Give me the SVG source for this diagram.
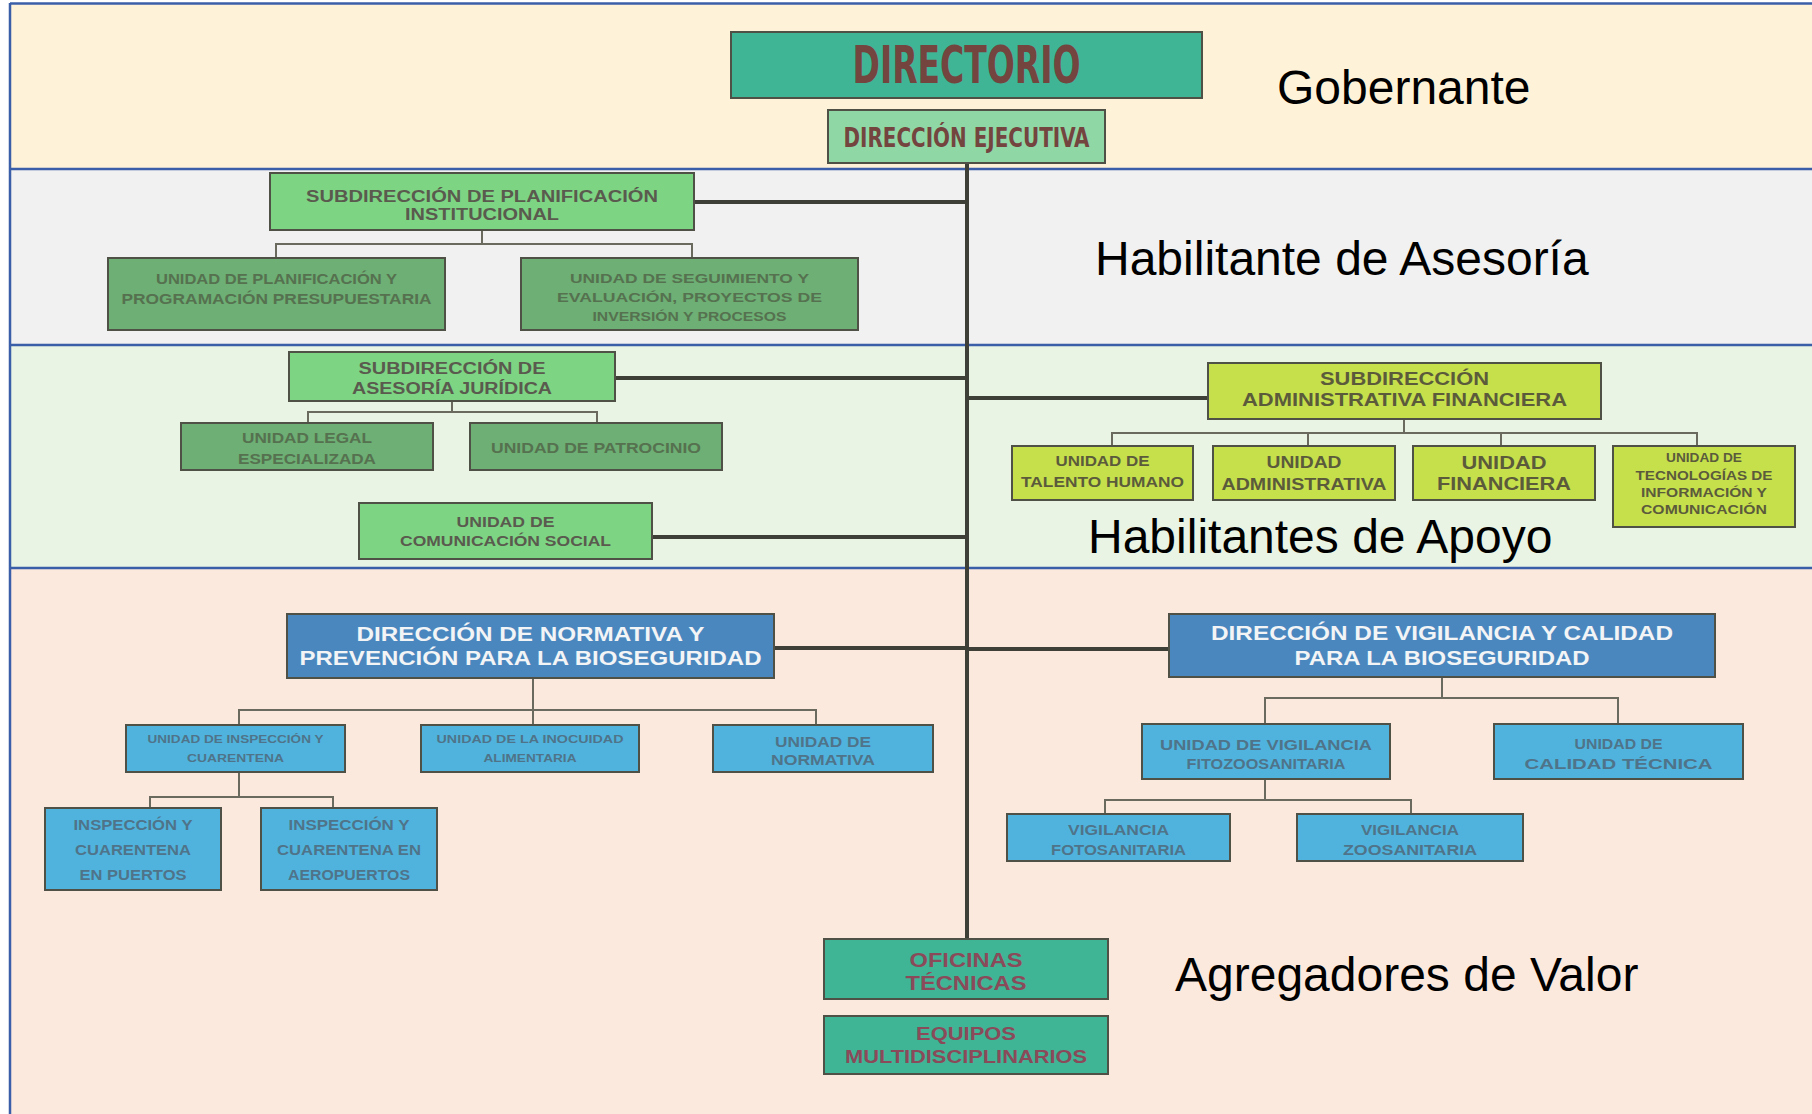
<svg xmlns="http://www.w3.org/2000/svg" width="1812" height="1114" viewBox="0 0 1812 1114">
<style>
.band-line{stroke:#3B5EA8;stroke-width:2.5;fill:none}
.box{stroke:#4F5046;stroke-width:2}
.teal{fill:#40B596}
.lgreen{fill:#8FD8A6}
.green{fill:#7DD584}
.dgreen{fill:#6DAF74}
.yellow{fill:#C6E04C}
.dblue{fill:#4A87BF}
.lblue{fill:#4FB3DE}
.t{font-family:"Liberation Sans",Arial,sans-serif;font-weight:bold;text-anchor:middle}
.cond{font-family:"Liberation Sans Narrow","DejaVu Sans Condensed","Liberation Sans",sans-serif;font-weight:bold;text-anchor:middle}
.maroon{fill:#74443F}
.tg{fill:#5A5A4E}
.tdg{fill:#56714F}
.ty{fill:#5B5B3C}
.tw{fill:#F2F4F6}
.tb{fill:#4F7489}
.tt{fill:#8A4A5A}
.lbl{font-family:"Liberation Sans",Arial,sans-serif;font-size:48px;fill:#000}
.main{stroke:#3E3F37;stroke-width:4;fill:none}
.sub{stroke:#6A6A5E;stroke-width:2;fill:none}
</style>
<rect x="0" y="0" width="1812" height="1114" fill="#FFFFFF"/>
<g id="bands">
<rect x="10" y="4" width="1802" height="165" fill="#FEF3D9"/>
<rect x="10" y="169" width="1802" height="176" fill="#F1F1F1"/>
<rect x="10" y="345" width="1802" height="223" fill="#EAF4E4"/>
<rect x="10" y="568" width="1802" height="546" fill="#FBE9DE"/>
<line class="band-line" x1="10" y1="3.5" x2="1812" y2="3.5"/>
<line class="band-line" x1="10" y1="169" x2="1812" y2="169"/>
<line class="band-line" x1="10" y1="345" x2="1812" y2="345"/>
<line class="band-line" x1="10" y1="568" x2="1812" y2="568"/>
<line class="band-line" x1="10" y1="3" x2="10" y2="1114"/>
<text class="lbl" x="1277" y="104">Gobernante</text>
<text class="lbl" x="1095" y="275">Habilitante de Asesoría</text>
<text class="lbl" x="1088" y="553">Habilitantes de Apoyo</text>
<text class="lbl" x="1175" y="991">Agregadores de Valor</text>
</g>
<g id="connectors">
<line class="main" x1="967" y1="163" x2="967" y2="939"/>
<line class="main" x1="694" y1="202" x2="967" y2="202"/>
<line class="main" x1="615" y1="378" x2="967" y2="378"/>
<line class="main" x1="652" y1="537" x2="967" y2="537"/>
<line class="main" x1="967" y1="398" x2="1208" y2="398"/>
<line class="main" x1="774" y1="648" x2="967" y2="648"/>
<line class="main" x1="967" y1="649" x2="1169" y2="649"/>
<path class="sub" d="M482 230V244M276 258V244H692V258"/>
<path class="sub" d="M452 401V412M308 423V412H597V423"/>
<path class="sub" d="M1404 419V433M1112 446V433H1697V446M1308 433V446M1501 433V446"/>
<path class="sub" d="M533 678V725M239 725V710H816V725"/>
<path class="sub" d="M239 772V797M150 808V797H333V808"/>
<path class="sub" d="M1442 677V698M1265 724V698H1618V724"/>
<path class="sub" d="M1265 779V800M1105 814V800H1411V814"/>
</g>
<g id="n-directorio">
<rect class="box teal" x="731" y="32" width="471" height="66"/>
<text class="cond maroon" x="966.5" y="83" font-size="52" textLength="228" lengthAdjust="spacingAndGlyphs">DIRECTORIO</text>
</g>
<g id="n-ejecutiva">
<rect class="box lgreen" x="828" y="110" width="277" height="53"/>
<text class="cond maroon" x="966.5" y="147" font-size="27" textLength="246" lengthAdjust="spacingAndGlyphs">DIRECCIÓN EJECUTIVA</text>
</g>
<g id="n-planificacion">
<rect class="box green" x="270" y="173" width="424" height="57"/>
<text class="t tg" x="482" y="202" font-size="16" textLength="352" lengthAdjust="spacingAndGlyphs">SUBDIRECCIÓN DE PLANIFICACIÓN</text>
<text class="t tg" x="482" y="220" font-size="16" textLength="154" lengthAdjust="spacingAndGlyphs">INSTITUCIONAL</text>
</g>
<g id="n-programacion">
<rect class="box dgreen" x="108" y="258" width="337" height="72"/>
<text class="t tdg" x="276.5" y="284" font-size="14" textLength="241" lengthAdjust="spacingAndGlyphs">UNIDAD DE PLANIFICACIÓN Y</text>
<text class="t tdg" x="276.5" y="304" font-size="14" textLength="310" lengthAdjust="spacingAndGlyphs">PROGRAMACIÓN PRESUPUESTARIA</text>
</g>
<g id="n-seguimiento">
<rect class="box dgreen" x="521" y="258" width="337" height="72"/>
<text class="t tdg" x="689.5" y="283" font-size="13.5" textLength="239" lengthAdjust="spacingAndGlyphs">UNIDAD DE SEGUIMIENTO Y</text>
<text class="t tdg" x="689.5" y="302" font-size="13.5" textLength="265" lengthAdjust="spacingAndGlyphs">EVALUACIÓN, PROYECTOS DE</text>
<text class="t tdg" x="689.5" y="321" font-size="13.5" textLength="194" lengthAdjust="spacingAndGlyphs">INVERSIÓN Y PROCESOS</text>
</g>
<g id="n-asesoria">
<rect class="box green" x="289" y="352" width="326" height="49"/>
<text class="t tg" x="452" y="374" font-size="16" textLength="187" lengthAdjust="spacingAndGlyphs">SUBDIRECCIÓN DE</text>
<text class="t tg" x="452" y="394" font-size="16" textLength="200" lengthAdjust="spacingAndGlyphs">ASESORÍA JURÍDICA</text>
</g>
<g id="n-legal">
<rect class="box dgreen" x="181" y="423" width="252" height="47"/>
<text class="t tdg" x="307" y="443" font-size="14" textLength="130" lengthAdjust="spacingAndGlyphs">UNIDAD LEGAL</text>
<text class="t tdg" x="307" y="464" font-size="14" textLength="138" lengthAdjust="spacingAndGlyphs">ESPECIALIZADA</text>
</g>
<g id="n-patrocinio">
<rect class="box dgreen" x="470" y="423" width="252" height="47"/>
<text class="t tdg" x="596" y="453" font-size="14" textLength="210" lengthAdjust="spacingAndGlyphs">UNIDAD DE PATROCINIO</text>
</g>
<g id="n-comunicacion">
<rect class="box green" x="359" y="503" width="293" height="56"/>
<text class="t tg" x="505.5" y="527" font-size="14" textLength="98" lengthAdjust="spacingAndGlyphs">UNIDAD DE</text>
<text class="t tg" x="505.5" y="546" font-size="14" textLength="211" lengthAdjust="spacingAndGlyphs">COMUNICACIÓN SOCIAL</text>
</g>
<g id="n-adminfin">
<rect class="box yellow" x="1208" y="363" width="393" height="56"/>
<text class="t ty" x="1404.5" y="385" font-size="18" textLength="169" lengthAdjust="spacingAndGlyphs">SUBDIRECCIÓN</text>
<text class="t ty" x="1404.5" y="406" font-size="18" textLength="325" lengthAdjust="spacingAndGlyphs">ADMINISTRATIVA FINANCIERA</text>
</g>
<g id="n-talento">
<rect class="box yellow" x="1012" y="446" width="181" height="54"/>
<text class="t ty" x="1102.5" y="466" font-size="14" textLength="94" lengthAdjust="spacingAndGlyphs">UNIDAD DE</text>
<text class="t ty" x="1102.5" y="487" font-size="14" textLength="163" lengthAdjust="spacingAndGlyphs">TALENTO HUMANO</text>
</g>
<g id="n-administrativa">
<rect class="box yellow" x="1213" y="446" width="182" height="54"/>
<text class="t ty" x="1304" y="468" font-size="17" textLength="75" lengthAdjust="spacingAndGlyphs">UNIDAD</text>
<text class="t ty" x="1304" y="490" font-size="17" textLength="165" lengthAdjust="spacingAndGlyphs">ADMINISTRATIVA</text>
</g>
<g id="n-financiera">
<rect class="box yellow" x="1413" y="446" width="182" height="54"/>
<text class="t ty" x="1504" y="469" font-size="19" textLength="85" lengthAdjust="spacingAndGlyphs">UNIDAD</text>
<text class="t ty" x="1504" y="490" font-size="19" textLength="134" lengthAdjust="spacingAndGlyphs">FINANCIERA</text>
</g>
<g id="n-tic">
<rect class="box yellow" x="1613" y="446" width="182" height="81"/>
<text class="t ty" x="1704" y="462" font-size="12" textLength="76" lengthAdjust="spacingAndGlyphs">UNIDAD DE</text>
<text class="t ty" x="1704" y="480" font-size="12" textLength="137" lengthAdjust="spacingAndGlyphs">TECNOLOGÍAS DE</text>
<text class="t ty" x="1704" y="497" font-size="12" textLength="126" lengthAdjust="spacingAndGlyphs">INFORMACIÓN Y</text>
<text class="t ty" x="1704" y="514" font-size="12" textLength="126" lengthAdjust="spacingAndGlyphs">COMUNICACIÓN</text>
</g>
<g id="n-dir-normativa">
<rect class="box dblue" x="287" y="614" width="487" height="64"/>
<text class="t tw" x="530.5" y="641" font-size="20" textLength="348" lengthAdjust="spacingAndGlyphs">DIRECCIÓN DE NORMATIVA Y</text>
<text class="t tw" x="530.5" y="665" font-size="20" textLength="462" lengthAdjust="spacingAndGlyphs">PREVENCIÓN PARA LA BIOSEGURIDAD</text>
</g>
<g id="n-inspeccion">
<rect class="box lblue" x="126" y="725" width="219" height="47"/>
<text class="t tb" x="235.5" y="743" font-size="11" textLength="176" lengthAdjust="spacingAndGlyphs">UNIDAD DE INSPECCIÓN Y</text>
<text class="t tb" x="235.5" y="762" font-size="11" textLength="97" lengthAdjust="spacingAndGlyphs">CUARENTENA</text>
</g>
<g id="n-inocuidad">
<rect class="box lblue" x="421" y="725" width="218" height="47"/>
<text class="t tb" x="530" y="743" font-size="11" textLength="187" lengthAdjust="spacingAndGlyphs">UNIDAD DE LA INOCUIDAD</text>
<text class="t tb" x="530" y="762" font-size="11" textLength="93" lengthAdjust="spacingAndGlyphs">ALIMENTARIA</text>
</g>
<g id="n-unidad-normativa">
<rect class="box lblue" x="713" y="725" width="220" height="47"/>
<text class="t tb" x="823" y="747" font-size="14" textLength="96" lengthAdjust="spacingAndGlyphs">UNIDAD DE</text>
<text class="t tb" x="823" y="765" font-size="14" textLength="104" lengthAdjust="spacingAndGlyphs">NORMATIVA</text>
</g>
<g id="n-puertos">
<rect class="box lblue" x="45" y="808" width="176" height="82"/>
<text class="t tb" x="133" y="830" font-size="14" textLength="119" lengthAdjust="spacingAndGlyphs">INSPECCIÓN Y</text>
<text class="t tb" x="133" y="855" font-size="14" textLength="116" lengthAdjust="spacingAndGlyphs">CUARENTENA</text>
<text class="t tb" x="133" y="880" font-size="14" textLength="107" lengthAdjust="spacingAndGlyphs">EN PUERTOS</text>
</g>
<g id="n-aeropuertos">
<rect class="box lblue" x="261" y="808" width="176" height="82"/>
<text class="t tb" x="349" y="830" font-size="14" textLength="121" lengthAdjust="spacingAndGlyphs">INSPECCIÓN Y</text>
<text class="t tb" x="349" y="855" font-size="14" textLength="144" lengthAdjust="spacingAndGlyphs">CUARENTENA EN</text>
<text class="t tb" x="349" y="880" font-size="14" textLength="122" lengthAdjust="spacingAndGlyphs">AEROPUERTOS</text>
</g>
<g id="n-dir-vigilancia">
<rect class="box dblue" x="1169" y="614" width="546" height="63"/>
<text class="t tw" x="1442" y="640" font-size="20" textLength="462" lengthAdjust="spacingAndGlyphs">DIRECCIÓN DE VIGILANCIA Y CALIDAD</text>
<text class="t tw" x="1442" y="665" font-size="20" textLength="295" lengthAdjust="spacingAndGlyphs">PARA LA BIOSEGURIDAD</text>
</g>
<g id="n-fito">
<rect class="box lblue" x="1142" y="724" width="248" height="55"/>
<text class="t tb" x="1266" y="750" font-size="15" textLength="212" lengthAdjust="spacingAndGlyphs">UNIDAD DE VIGILANCIA</text>
<text class="t tb" x="1266" y="769" font-size="15" textLength="159" lengthAdjust="spacingAndGlyphs">FITOZOOSANITARIA</text>
</g>
<g id="n-calidad">
<rect class="box lblue" x="1494" y="724" width="249" height="55"/>
<text class="t tb" x="1618.5" y="749" font-size="15" textLength="88" lengthAdjust="spacingAndGlyphs">UNIDAD DE</text>
<text class="t tb" x="1618.5" y="769" font-size="15" textLength="188" lengthAdjust="spacingAndGlyphs">CALIDAD TÉCNICA</text>
</g>
<g id="n-foto">
<rect class="box lblue" x="1007" y="814" width="223" height="47"/>
<text class="t tb" x="1118.5" y="835" font-size="14" textLength="101" lengthAdjust="spacingAndGlyphs">VIGILANCIA</text>
<text class="t tb" x="1118.5" y="855" font-size="14" textLength="135" lengthAdjust="spacingAndGlyphs">FOTOSANITARIA</text>
</g>
<g id="n-zoo">
<rect class="box lblue" x="1297" y="814" width="226" height="47"/>
<text class="t tb" x="1410" y="835" font-size="14" textLength="98" lengthAdjust="spacingAndGlyphs">VIGILANCIA</text>
<text class="t tb" x="1410" y="855" font-size="14" textLength="134" lengthAdjust="spacingAndGlyphs">ZOOSANITARIA</text>
</g>
<g id="n-oficinas">
<rect class="box teal" x="824" y="939" width="284" height="60"/>
<text class="t tt" x="966" y="967" font-size="20" textLength="113" lengthAdjust="spacingAndGlyphs">OFICINAS</text>
<text class="t tt" x="966" y="990" font-size="20" textLength="121" lengthAdjust="spacingAndGlyphs">TÉCNICAS</text>
</g>
<g id="n-equipos">
<rect class="box teal" x="824" y="1016" width="284" height="58"/>
<text class="t tt" x="966" y="1040" font-size="18" textLength="100" lengthAdjust="spacingAndGlyphs">EQUIPOS</text>
<text class="t tt" x="966" y="1063" font-size="18" textLength="242" lengthAdjust="spacingAndGlyphs">MULTIDISCIPLINARIOS</text>
</g>
</svg>
